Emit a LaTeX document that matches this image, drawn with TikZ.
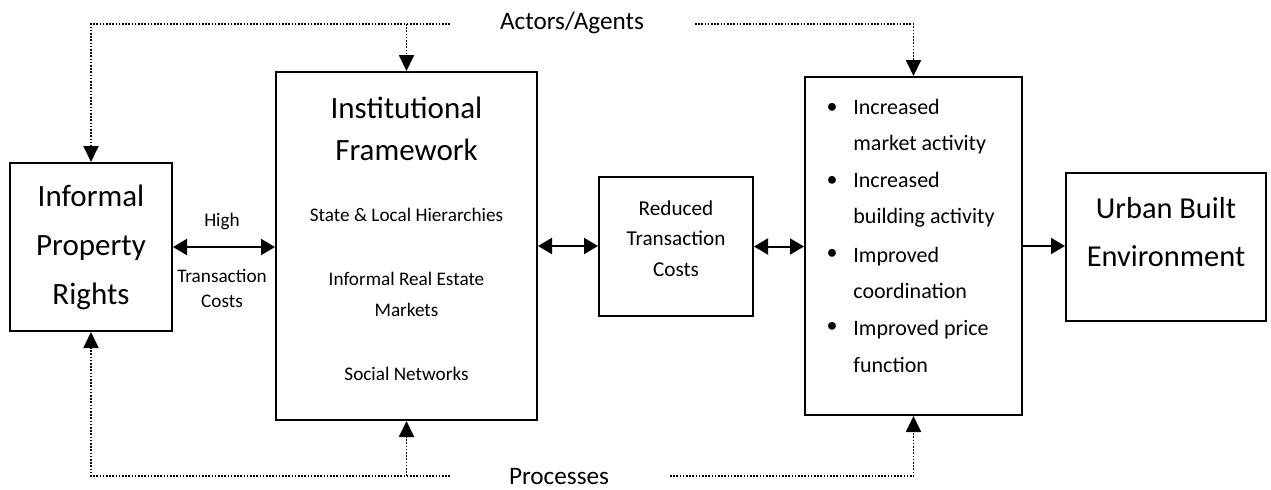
\documentclass[tikz,border=0pt]{standalone}
\usepackage{fontspec}
\setmainfont{Carlito}
\usetikzlibrary{arrows.meta}

\begin{document}
\begin{tikzpicture}[x=0.5pt, y=-0.5pt,
        box/.style={draw, line width=1pt, inner sep=0pt},
        big/.style={align=center, font=\fontsize{15.5}{24.5}\selectfont},
        small/.style={align=center, font=\fontsize{9.6}{15.7}\selectfont},
        side/.style={font=\fontsize{12.6}{15}\selectfont},
        dots/.style={line width=0.9pt, dash pattern=on 0.8pt off 0.8pt, -{Triangle[length=8pt,width=7.5pt]}},
        dbl/.style={line width=1pt, {Triangle[length=7pt,width=8pt]}-{Triangle[length=7pt,width=8pt]}},
        one/.style={line width=1pt, -{Triangle[length=7pt,width=8pt]}}]
        \useasboundingbox (0,0) rectangle (1271,489);

        % Boxes
        \node[box, minimum width=81pt, minimum height=84pt] (ipr) at (91, 247) {};
        \node[box, minimum width=130.5pt, minimum height=174pt] (inst) at (406.5, 246) {};
        \node[box, minimum width=77pt, minimum height=69.5pt] (rtc) at (676, 246.5) {};
        \node[box, minimum width=108.5pt, minimum height=169pt] (out) at (913.5, 246) {};
        \node[box, minimum width=100pt, minimum height=74pt] (ube) at (1166, 247) {};

        % Texts
        \node[big] (iprT) at (91, 247) {Informal\\Property\\Rights};
        \node[big, font=\fontsize{15.5}{21}\selectfont] (instT) at (406.5, 129) {Institutional\\Framework};
        \node[small] (inst1) at (406.5, 215) {State \& Local Hierarchies};
        \node[small] (inst2) at (406.5, 294.5) {Informal Real Estate\\Markets};
        \node[small] (inst3) at (406.5, 374) {Social Networks};
        \node[small, font=\fontsize{10.6}{15.3}\selectfont] (rtcT) at (676, 238.5) {Reduced\\Transaction\\Costs};
        \node[big, font=\fontsize{15.2}{24}\selectfont] (ubeT) at (1166, 232) {Urban Built\\Environment};
        \foreach \txt [count=\i] in {{Increased\\market activity}, {Increased\\building activity},
                {Improved\\coordination}, {Improved price\\function}} {
            \node[font=\fontsize{11}{18.25}\selectfont] (b\i) at (832, 108 + 73.3*\i - 73.3) {\textbullet};
            \node[anchor=west, align=left, inner xsep=0pt, font=\fontsize{11}{18.25}\selectfont]
                (t\i) at (853, 126.5 + 73.3*\i - 73.3) {\txt};
        }
        \node[small] (high) at (222, 221) {High};
        \node[small, font=\fontsize{9.6}{12.5}\selectfont] (cost) at (222, 288.5) {Transaction\\Costs};
        \node[side] (actors) at (572, 23) {Actors/Agents};
        \node[side] (proc) at (559, 476) {Processes};

        % Dotted links
        \coordinate (te) at (450, 24);
        \coordinate (tr) at (695, 24);
        \coordinate (be) at (450, 476);
        \coordinate (br) at (670, 476);
        \draw[dots] (te) -| (ipr.north);
        \draw[dots] (inst.north |- te) -- (inst.north);
        \draw[dots] (tr) -| (out.north);
        \draw[dots] (be) -| (ipr.south);
        \draw[dots] (inst.south |- be) -- (inst.south);
        \draw[dots] (br) -| (out.south);

        % Arrows
        \draw[dbl] (ipr.east) -- (ipr.east -| inst.west);
        \draw[dbl] (inst.east) -- (inst.east -| rtc.west);
        \draw[dbl] (rtc.east) -- (rtc.east -| out.west);
        \draw[one] (out.east) -- (out.east -| ube.west);
    \end{tikzpicture}
\end{document}
